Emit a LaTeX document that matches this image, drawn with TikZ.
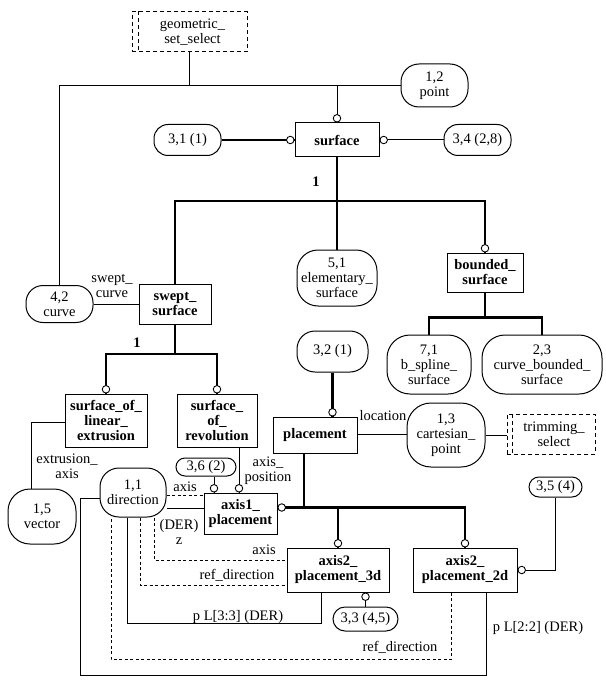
\documentclass[tikz,border=0pt]{standalone}
\usepackage{fontspec}
\setmainfont{Liberation Serif}
\usepackage{tikz}

\begin{document}
\fontsize{14.5}{15}\selectfont
\begin{tikzpicture}[x=1pt, y=-1pt, line width=1pt,
  ent/.style={draw, font=\bfseries, align=center, inner sep=1pt},
  pageref/.style={draw, rounded corners=#1, align=center, inner sep=1pt},
  pageref/.default=10pt,
  selbox/.style={draw, dash pattern=on 4pt off 3pt, align=center, inner sep=1pt},
  ring/.style={draw, circle, fill=white, inner sep=0pt, minimum size=7.5pt, line width=0.9pt},
  heavy/.style={line width=2.6pt},
  link/.style={dash pattern=on 3pt off 2.5pt},
  lbl/.style={align=center, inner sep=0pt}]
\useasboundingbox (0,0) rectangle (605,687);

\draw (189.5,32) node[selbox, minimum width=115, minimum height=40] (geometric set select) {\hspace{6pt}geometric\_\\\hspace{6pt}set\_select};
\draw[dash pattern=on 4pt off 3pt] ([xshift=7pt]geometric set select.north west) -- ([xshift=7pt]geometric set select.south west);
\draw (434.5,85.5) node[pageref=18pt, minimum width=67, minimum height=43] (point) {1,2\\point};
\draw (187.5,140) node[pageref=14pt, minimum width=67, minimum height=31] (ref 31) {3,1 (1)};
\draw (337,140) node[ent, minimum width=84, minimum height=34] (surface) {surface};
\draw (477.5,140) node[pageref=14pt, minimum width=67, minimum height=31] (ref 34) {3,4 (2,8)};
\draw (337,278) node[pageref=21pt, minimum width=80, minimum height=56] (elementary surface) {5,1\\elementary\_\\surface};
\draw (485,272.5) node[ent, minimum width=76, minimum height=39] (bounded surface) {bounded\_\\surface};
\draw (59.5,304) node[pageref=17pt, minimum width=67, minimum height=37] (curve) {4,2\\curve};
\draw (175,304) node[ent, minimum width=72, minimum height=40] (swept surface) {swept\_\\surface};
\draw (429,364.5) node[pageref=23pt, minimum width=84, minimum height=59] (b spline surface) {7,1\\b\_spline\_\\surface};
\draw (542,364.5) node[pageref=23pt, minimum width=120, minimum height=59] (curve bounded surface) {2,3\\curve\_bounded\_\\surface};
\draw (332.5,351.5) node[pageref=18pt, minimum width=71, minimum height=41] (ref 32) {3,2 (1)};
\draw (106,420.5) node[ent, minimum width=82, minimum height=53] (linear extrusion) {surface\_of\_\\linear\_\\extrusion};
\draw (217,420.5) node[ent, minimum width=80, minimum height=53] (revolution) {surface\_\\of\_\\revolution};
\draw (315,435) node[ent, minimum width=84, minimum height=36] (placement) {placement};
\draw (446,435) node[pageref=24pt, minimum width=78, minimum height=64] (cartesian point) {1,3\\cartesian\_\\point};
\draw (551,434) node[selbox, minimum width=88, minimum height=40] (trimming select) {\hspace{6pt}trimming\_\\\hspace{6pt}select};
\draw[dash pattern=on 4pt off 3pt] ([xshift=6pt]trimming select.north west) -- ([xshift=6pt]trimming select.south west);
\draw (206,467) node[pageref=9pt, minimum width=60, minimum height=18] (ref 36) {3,6 (2)};
\draw (240.5,513.5) node[ent, minimum width=73, minimum height=41] (axis1 placement) {axis1\_\\placement};
\draw (42,516.5) node[pageref=22pt, minimum width=68, minimum height=55] (vector) {1,5\\vector};
\draw (133,492.5) node[pageref=19pt, minimum width=66, minimum height=49] (direction) {1,1\\direction};
\draw (555.5,487) node[pageref=10pt, minimum width=53, minimum height=20] (ref 35) {3,5 (4)};
\draw (338,570) node[ent, minimum width=102, minimum height=44] (axis2 placement 3d) {axis2\_\\placement\_3d};
\draw (465,570) node[ent, minimum width=104, minimum height=44] (axis2 placement 2d) {axis2\_\\placement\_2d};
\draw (365.5,619) node[pageref=12pt, minimum width=65, minimum height=24] (ref 33) {3,3 (4,5)};

\draw (curve.north) |- (point.west);
\draw (geometric set select.south) -- (geometric set select.south |- point.west);
\draw (surface.north |- point.west) -- (surface.north);
\draw[heavy] (ref 31.east) -- (surface.west);
\draw (surface.east) -- (ref 34.west);
\coordinate (surface fork) at (337,201);
\draw[heavy] (surface.south) -- (surface fork);
\draw[heavy] (swept surface.north) |- (surface fork) -| (bounded surface.north);
\draw[heavy] (surface fork) -- (elementary surface.north);
\draw (316,182) node[lbl, font=\bfseries] (surface one) {1};
\draw[heavy] (bounded surface.south) -- ++(0,25) -| (b spline surface.north);
\draw[heavy] (bounded surface.south) ++(0,25) -| (curve bounded surface.north);
\draw (curve.east) -- (swept surface.west);
\draw (112,286) node[lbl] (swept curve) {swept\_\\curve};
\coordinate (swept fork) at (175,354);
\draw[heavy] (swept surface.south) -- (swept fork);
\draw[heavy] (linear extrusion.north) |- (swept fork) -| (revolution.north);
\draw (137,343) node[lbl, font=\bfseries] (swept one) {1};
\draw ([yshift=-1.5pt]linear extrusion.west) -| ([xshift=-11pt]vector.north);
\draw (67,466) node[lbl] (extrusion axis) {extrusion\_\\axis};
\draw[heavy] (ref 32.south) -- (ref 32.south |- placement.north);
\draw ([yshift=1pt]placement.east) -- ([yshift=1pt]cartesian point.west);
\draw (383,416) node[lbl] (location) {location};
\draw (cartesian point.east) -- (cartesian point.east -| trimming select.west);
\coordinate (placement fork) at (304,507.5);
\draw[heavy] ([xshift=-11pt]placement.south) -- (placement fork);
\draw[heavy] ([yshift=6pt]axis1 placement.east) -| (axis2 placement 2d.north);
\draw[heavy] (placement fork -| axis2 placement 3d.north) -- (axis2 placement 3d.north);
\draw (axis2 placement 2d.east) -| (ref 35.south);
\draw (ref 33.north |- axis2 placement 3d.south) -- (ref 33.north);
\draw ([xshift=8pt]ref 36.south) -- ([xshift=8pt]ref 36.south |- axis1 placement.north);
\draw ([xshift=22pt]revolution.south) -- ([xshift=22pt]revolution.south |- axis1 placement.north);
\draw (268,471) node[lbl] (axis position) {axis\_\\position};
\draw[link] ([yshift=-3pt]direction.east) -- ([yshift=-3pt]direction.east -| axis1 placement.west);
\draw (185,487) node[lbl] (axis one) {axis};
\draw ([yshift=-16pt]direction.east) -- ([yshift=-16pt]direction.east -| axis1 placement.west);
\draw (179,532) node[lbl] (der z) {(DER)\\z};
\draw[link] ([xshift=21pt]direction.south) |- ([yshift=10pt]axis2 placement 3d.west);
\draw (264,550) node[lbl] (axis two) {axis};
\draw[link] ([xshift=7pt]direction.south) |- ([yshift=-15pt]axis2 placement 3d.west);
\draw (237,575) node[lbl] (ref direction one) {ref\_direction};
\draw ([xshift=-17pt]axis2 placement 3d.south) -- ++(0,31) -| ([xshift=-6pt]direction.south);
\draw (238,617) node[lbl] (p three) {p L[3:3] (DER)};
\draw[link] ([xshift=-14pt]axis2 placement 2d.south) -- ++(0,67) -| ([xshift=-22pt]direction.south);
\draw (400,647) node[lbl] (ref direction two) {ref\_direction};
\draw ([yshift=-6pt]direction.west) -- ++(-19,0) -- ++(0,177) -| ([xshift=21pt]axis2 placement 2d.south);
\draw (538,628) node[lbl] (p two) {p L[2:2] (DER)};

%%rings
\draw (surface.north) node[ring, anchor=south] (surface top) {};
\draw (surface.west) node[ring, anchor=east] (surface left) {};
\draw (surface.east) node[ring, anchor=west] (surface right) {};
\draw (bounded surface.north) node[ring, anchor=south] (bounded top) {};
\draw (linear extrusion.north) node[ring, anchor=south] (extrusion top) {};
\draw (revolution.north) node[ring, anchor=south] (revolution top) {};
\draw (ref 32.south |- placement.north) node[ring, anchor=south] (placement top) {};
\draw ([xshift=8pt]ref 36.south |- axis1 placement.north) node[ring, anchor=south] (axis1 top left) {};
\draw ([xshift=22pt]revolution.south |- axis1 placement.north) node[ring, anchor=south] (axis1 top right) {};
\draw ([yshift=6pt]axis1 placement.east) node[ring, anchor=west] (axis1 right) {};
\draw (axis2 placement 3d.north) node[ring, anchor=south] (axis2 3d top) {};
\draw (axis2 placement 2d.north) node[ring, anchor=south] (axis2 2d top) {};
\draw (axis2 placement 2d.east) node[ring, anchor=west] (axis2 2d right) {};
\draw (ref 33.north |- axis2 placement 3d.south) node[ring, anchor=north] (axis2 3d bottom) {};
\end{tikzpicture}
\end{document}
